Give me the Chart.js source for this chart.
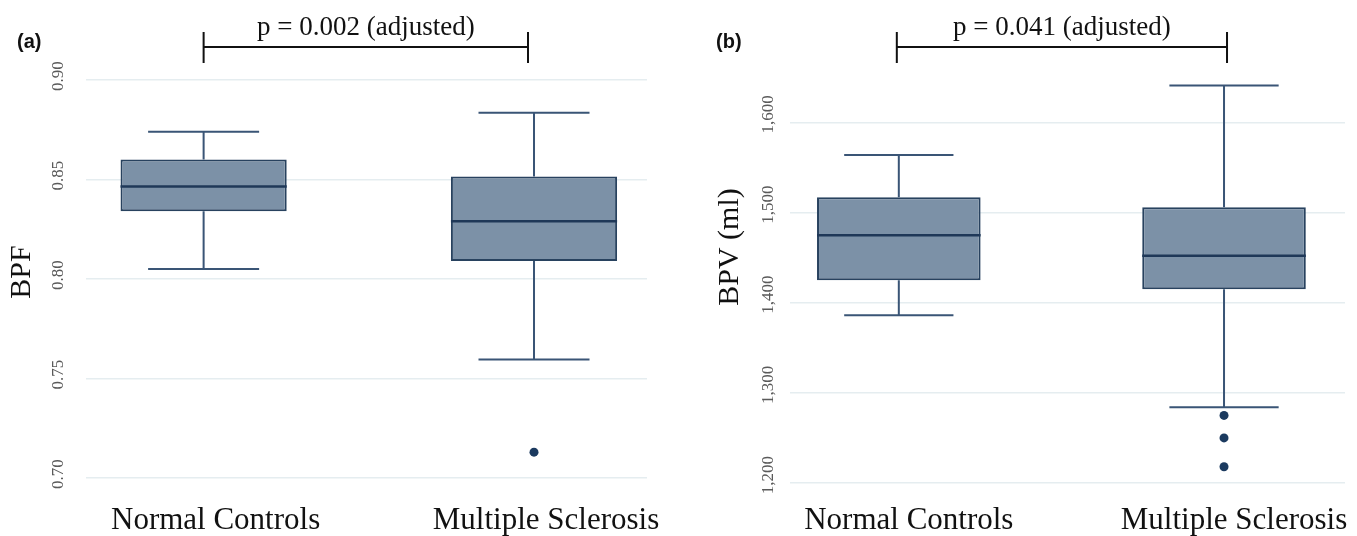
<!DOCTYPE html>
<html>
<head>
<meta charset="utf-8">
<script src="https://cdn.jsdelivr.net/npm/chart.js@4.4.0/dist/chart.umd.min.js"></script>
<style>
html, body { margin: 0; padding: 0; background: #fff; }
#wrap { position: relative; width: 1357px; height: 536px; }
.panel { position: absolute; top: 0; }
#panelA { left: 0; }
#panelB { left: 678px; }
</style>
</head>
<body>
<div id="wrap">
  <div class="panel" id="panelA"><canvas id="chartA" width="678" height="536"></canvas></div>
  <div class="panel" id="panelB"><canvas id="chartB" width="679" height="536"></canvas></div>
</div>
<script>
const groups = ['Normal Controls', 'Multiple Sclerosis'];

// (a) BPF
const bpfLow = [0.805, 0.7595];
const bpfQ1 = [0.834, 0.809];
const bpfMedian = [0.8465, 0.829];
const bpfQ3 = [0.860, 0.8515];
const bpfHigh = [0.874, 0.8835];
const bpfOutliers = [[], [0.713]];
const bpfTicks = [0.70, 0.75, 0.80, 0.85, 0.90];

// (b) BPV (ml)
const bpvLow = [1386, 1284];
const bpvQ1 = [1425, 1415];
const bpvMedian = [1475, 1452];
const bpvQ3 = [1517, 1506];
const bpvHigh = [1564, 1641];
const bpvOutliers = [[], [1275, 1250, 1218]];
const bpvTicks = [1200, 1300, 1400, 1500, 1600];

const serif = '"Liberation Serif", "Times New Roman", serif';
const boxFill = '#7c91a7';
const boxLine = '#28425f';
const whiskerColor = '#3a5576';
const dotColor = '#1b3a5f';
const gridColor = '#e5edf0';
const capHalf = 0.168;
const boxHalf = 0.2515;

// whiskers + caps as one broken line (null = gap)
function whiskerPoints(low, q1, q3, high) {
    let pts = []
    for (let i = 0; i < low.length; i++) {
        pts.push({x: i, y: q3[i]}, {x: i, y: high[i]}, {x: i, y: null})
        pts.push({x: i, y: q1[i]}, {x: i, y: low[i]}, {x: i, y: null})
        pts.push({x: i - capHalf, y: high[i]}, {x: i + capHalf, y: high[i]}, {x: i, y: null})
        pts.push({x: i - capHalf, y: low[i]}, {x: i + capHalf, y: low[i]}, {x: i, y: null})
    }
    return pts
}

function medianPoints(med) {
    let pts = []
    med.forEach((m, i) => pts.push({x: i - boxHalf, y: m}, {x: i + boxHalf, y: m}, {x: i, y: null}))
    return pts
}

function boxDatasets(low, q1, med, q3, high, outliers) {
    return [
        {
            type: 'scatter',
            data: outliers.flatMap((arr, i) => arr.map(v => ({x: i, y: v}))),
            pointRadius: 4.5,
            pointBackgroundColor: dotColor,
            pointBorderWidth: 0,
            order: 0
        },
        {
            type: 'line',
            data: medianPoints(med),
            borderColor: '#1f3858',
            borderWidth: 2.5,
            pointRadius: 0,
            spanGaps: false,
            order: 1
        },
        {
            type: 'line',
            data: whiskerPoints(low, q1, q3, high),
            borderColor: whiskerColor,
            borderWidth: 2,
            pointRadius: 0,
            spanGaps: false,
            order: 2
        },
        {
            type: 'bar',
            data: q1.map((v, i) => ({x: i, y: [v, q3[i]]})),
            backgroundColor: boxFill,
            borderColor: boxLine,
            borderWidth: 2,
            borderSkipped: false,
            barPercentage: 0.503,
            categoryPercentage: 1,
            order: 3
        }
    ]
}

const panelText = {
    id: 'panelText',
    afterDraw(chart, args, opts) {
        const ctx = chart.ctx
        const xs = chart.scales.x
        const x0 = xs.getPixelForValue(0) + opts.bracketShift[0]
        const x1 = xs.getPixelForValue(1) + opts.bracketShift[1]
        ctx.save()
        ctx.strokeStyle = '#111'
        ctx.lineWidth = 2
        ctx.beginPath()
        ctx.moveTo(x0, opts.bracketY); ctx.lineTo(x1, opts.bracketY)
        ctx.moveTo(x0, opts.bracketY - 15); ctx.lineTo(x0, opts.bracketY + 16)
        ctx.moveTo(x1, opts.bracketY - 15); ctx.lineTo(x1, opts.bracketY + 16)
        ctx.stroke()

        ctx.fillStyle = '#111'
        ctx.font = '27px ' + serif
        ctx.textAlign = 'center'
        ctx.textBaseline = 'alphabetic'
        ctx.fillText(opts.pText, (x0 + x1) / 2, opts.pY)

        ctx.font = 'bold 20px "Liberation Sans", Arial, sans-serif'
        ctx.textAlign = 'left'
        ctx.fillText(opts.label, opts.labelX, opts.labelY)

        ctx.translate(opts.titleX, opts.titleY)
        ctx.rotate(-Math.PI / 2)
        ctx.font = '30px ' + serif
        ctx.textAlign = 'center'
        ctx.textBaseline = 'middle'
        ctx.fillText(opts.title, 0, 0)
        ctx.restore()
    }
}

function makeOptions(cfg) {
    return {
        responsive: false,
        animation: false,
        layout: {padding: {top: cfg.top, left: 0, right: cfg.right, bottom: 0}},
        plugins: {
            legend: {display: false},
            tooltip: {enabled: false},
            panelText: cfg.text
        },
        scales: {
            x: {
                type: 'linear',
                min: cfg.xMin,
                max: cfg.xMax,
                offset: false,
                afterBuildTicks: s => { s.ticks = groups.map((g, i) => ({value: i})) },
                afterFit: s => {
                    s.height = cfg.xHeight
                    s.paddingLeft = 0
                    s.paddingRight = 0
                },
                grid: {display: false, drawTicks: false},
                border: {display: false},
                ticks: {
                    callback: v => groups[v],
                    font: {family: serif, size: 31},
                    color: '#111',
                    padding: cfg.xPad,
                    labelOffset: cfg.xLabelOffset,
                    maxRotation: 0,
                    autoSkip: false
                }
            },
            y: {
                min: cfg.yMin,
                max: cfg.yMax,
                afterBuildTicks: s => { s.ticks = cfg.ticks.map(v => ({value: v})) },
                afterFit: s => { s.width = cfg.yWidth },
                grid: {color: gridColor, lineWidth: 1.5, drawTicks: false},
                border: {display: false},
                ticks: {
                    callback: cfg.fmt,
                    font: {family: serif, size: 17},
                    color: '#5a5a5a',
                    minRotation: 90,
                    maxRotation: 90,
                    crossAlign: 'center',
                    padding: cfg.yPad,
                    labelOffset: cfg.yLabelOffset
                }
            }
        }
    }
}

new Chart(document.getElementById('chartA'), {
    type: 'bar',
    data: {datasets: boxDatasets(bpfLow, bpfQ1, bpfMedian, bpfQ3, bpfHigh, bpfOutliers)},
    options: makeOptions({
        top: 80, right: 31, xHeight: 58, yWidth: 86,
        xMin: -0.356, xMax: 1.342, xPad: 24, xLabelOffset: 12,
        yMin: 0.70, yMax: 0.90, ticks: bpfTicks, yPad: 13, yLabelOffset: -4,
        fmt: v => v.toFixed(2),
        text: {
            pText: 'p = 0.002 (adjusted)', pY: 35, bracketY: 47, bracketShift: [0, -6],
            label: '(a)', labelX: 17, labelY: 48,
            title: 'BPF', titleX: 22, titleY: 272
        }
    }),
    plugins: [panelText]
});

new Chart(document.getElementById('chartB'), {
    type: 'bar',
    data: {datasets: boxDatasets(bpvLow, bpvQ1, bpvMedian, bpvQ3, bpvHigh, bpvOutliers)},
    options: makeOptions({
        top: 81, right: 12, xHeight: 53, yWidth: 112,
        xMin: -0.3346, xMax: 1.372, xPad: 19, xLabelOffset: 10,
        yMin: 1200, yMax: 1646, ticks: bpvTicks, yPad: 2, yLabelOffset: -8,
        fmt: v => v.toLocaleString('en-US'),
        text: {
            pText: 'p = 0.041 (adjusted)', pY: 35, bracketY: 47, bracketShift: [-2, 3],
            label: '(b)', labelX: 38, labelY: 48,
            title: 'BPV (ml)', titleX: 52, titleY: 247
        }
    }),
    plugins: [panelText]
});
</script>
</body>
</html>
